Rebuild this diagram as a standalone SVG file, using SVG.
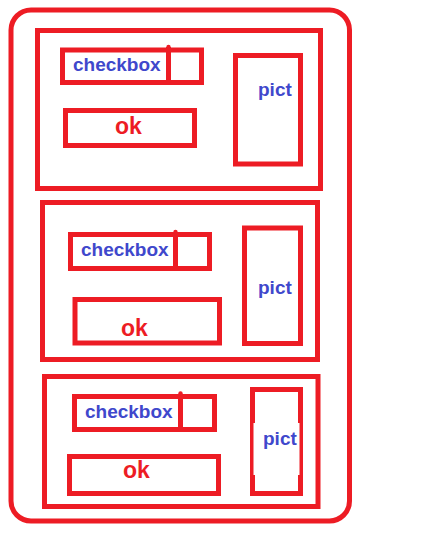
<svg xmlns="http://www.w3.org/2000/svg" width="441" height="536" viewBox="0 0 441 536">
<style>
.box{fill:none;stroke:#ed1c24;stroke-width:5}
.div{stroke:#ed1c24;stroke-width:5}
.dot{fill:#ed1c24}
.cb{font-family:"Liberation Sans",Arial,sans-serif;font-weight:bold;font-size:19px;fill:#3f48cc}
.ok{font-family:"Liberation Sans",Arial,sans-serif;font-weight:bold;font-size:23px;fill:#ed1c24}
</style>
<rect width="441" height="536" fill="#ffffff"/>
<g id="frame"><rect class="box" x="11" y="10" width="338.5" height="511" rx="20" ry="20" stroke-width="4.5"/></g>
<g id="panel1">
<rect class="box" x="37.5" y="30.5" width="283" height="158"/>
<g id="checkbox1"><rect class="box" x="62.5" y="50" width="139" height="32.5"/><line class="div" x1="168.5" y1="47" x2="168.5" y2="82.5"/><circle class="dot" cx="168.5" cy="47" r="2.2"/><text class="cb" x="73" y="71">checkbox</text></g>
<g id="ok1"><rect class="box" x="65.5" y="110.5" width="129" height="35"/><text class="ok" x="115" y="134">ok</text></g>
<g id="pict1"><rect class="box" x="235.5" y="55.5" width="65" height="108.5"/><text class="cb" x="258" y="96">pict</text></g>
</g>
<g id="panel2">
<rect class="box" x="42.5" y="202.5" width="275" height="157"/>
<g id="checkbox2"><rect class="box" x="70.5" y="234.5" width="139" height="34"/><line class="div" x1="175.5" y1="232" x2="175.5" y2="268.5"/><circle class="dot" cx="175.5" cy="232" r="2.2"/><text class="cb" x="81" y="256">checkbox</text></g>
<g id="ok2"><rect class="box" x="75" y="299.5" width="144.5" height="43.5"/><text class="ok" x="121" y="336">ok</text></g>
<g id="pict2"><rect class="box" x="244.5" y="228" width="56" height="115.5"/><text class="cb" x="258" y="294">pict</text></g>
</g>
<g id="panel3">
<rect class="box" x="44.5" y="376.5" width="273.5" height="130"/>
<g id="checkbox3"><rect class="box" x="74.5" y="396.5" width="140" height="33"/><line class="div" x1="180.5" y1="394" x2="180.5" y2="429.5"/><circle class="dot" cx="180.5" cy="393.5" r="2.2"/><text class="cb" x="85" y="418">checkbox</text></g>
<g id="ok3"><rect class="box" x="69.5" y="456.5" width="149" height="37"/><text class="ok" x="123" y="478">ok</text></g>
<g id="pict3"><rect class="box" x="252.5" y="389.5" width="48" height="104"/><rect x="253.5" y="423" width="2" height="52" fill="#ffffff"/><rect x="298" y="423" width="1.5" height="52" fill="#ffffff"/><text class="cb" x="263" y="445">pict</text></g>
</g>
<g id="connectors"></g>
</svg>
